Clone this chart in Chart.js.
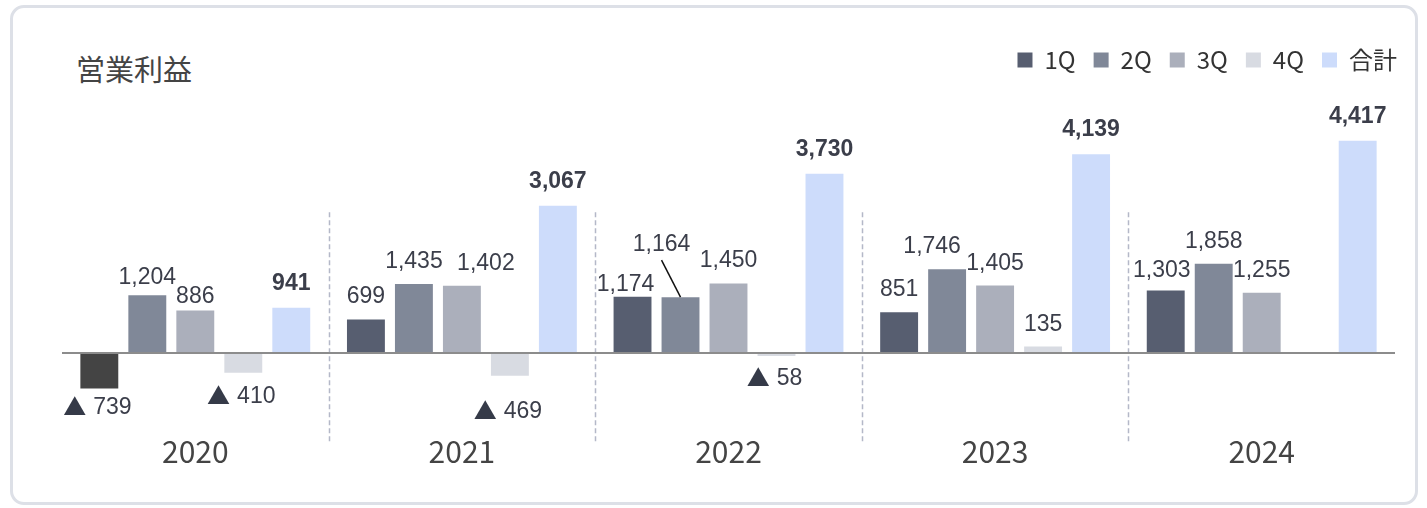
<!DOCTYPE html>
<html>
<head>
<meta charset="utf-8">
<script src="https://cdn.jsdelivr.net/npm/chart.js@4/dist/chart.umd.min.js"></script>
<style>
  html, body { margin: 0; padding: 0; background: #fff; }
  #card {
    position: absolute; left: 10px; top: 5px;
    width: 1402px; height: 494px;
    border: 3px solid #dde0e7; border-radius: 14px;
  }
  #title {
    position: absolute; left: 76px; top: 54px;
    font: 29px/29px "Noto Sans CJK JP", sans-serif; color: #444;
  }
  #chart { position: absolute; left: 0; top: 0; }
</style>
</head>
<body>
<div id="card"></div>
<div id="title">営業利益</div>
<canvas id="chart" width="1427" height="508"></canvas>
<script>
// data
const years = ['2020', '2021', '2022', '2023', '2024'];
const seriesNames = ['1Q', '2Q', '3Q', '4Q', '合計'];
const q1 = [-739, 699, 1174, 851, 1303];
const q2 = [1204, 1435, 1164, 1746, 1858];
const q3 = [886, 1402, 1450, 1405, 1255];
const q4 = [-410, -469, -58, 135, null];
const total = [941, 3067, 3730, 4139, 4417];

const colors = ['#575e70', '#808898', '#abafbb', '#d8dbe2', '#cddcfb'];
const negColor1Q = '#444444';

// value labels drawn above / below each bar
const valueLabels = {
    id: 'valueLabels',
    afterDatasetsDraw(chart, args, opts) {
        const ctx = chart.ctx;
        const numFont = (bold) => (bold ? 'bold ' : '') + opts.size + 'px "Liberation Sans", Arial, sans-serif';
        const triFont = opts.size + 'px "Noto Sans CJK JP", sans-serif';
        ctx.save();
        ctx.textBaseline = 'alphabetic';
        ctx.fillStyle = opts.color;
        ctx.strokeStyle = '#111';
        ctx.lineWidth = 1.5;
        chart.data.datasets.forEach((ds, di) => {
            const meta = chart.getDatasetMeta(di);
            meta.data.forEach((bar, i) => {
                const v = ds.data[i];
                if (v === null || v === undefined) return;
                const shift = Object.assign({dx: 0, dy: 0}, opts.shifts[di + '-' + i]);
                const x = bar.x + shift.dx;
                if (v < 0) {
                    const num = Math.abs(v).toLocaleString('en-US');
                    const y = bar.y + 28 + shift.dy;
                    ctx.font = triFont;
                    const tw = ctx.measureText('▲').width;
                    ctx.font = numFont(ds.boldLabels);
                    const nw = ctx.measureText(num).width;
                    const gap = 7;
                    const left = x - (tw + gap + nw) / 2 - 2;
                    ctx.textAlign = 'left';
                    ctx.font = triFont;
                    ctx.fillStyle = opts.markColor;
                    ctx.fillText('▲', left, y + 1);
                    ctx.font = numFont(ds.boldLabels);
                    ctx.fillStyle = opts.color;
                    ctx.fillText(num, left + tw + gap, y);
                } else {
                    const y = bar.y - (ds.boldLabels ? 18 : 16) + shift.dy;
                    ctx.textAlign = 'center';
                    ctx.font = numFont(ds.boldLabels);
                    ctx.fillText(v.toLocaleString('en-US'), x, y);
                    if (shift.leader) {
                        ctx.beginPath();
                        ctx.moveTo(x, y + 9);
                        ctx.lineTo(bar.x, bar.y);
                        ctx.stroke();
                    }
                }
            });
        });
        ctx.restore();
    }
};

// dashed separators between years and the zero line
const yearSeparators = {
    id: 'yearSeparators',
    beforeDatasetsDraw(chart, args, opts) {
        const {ctx, chartArea, scales: {x, y}} = chart;
        const top = y.getPixelForValue(opts.fromValue);
        const bottom = chartArea.bottom + opts.extend;
        ctx.save();
        ctx.strokeStyle = opts.color;
        ctx.lineWidth = 1.5;
        ctx.setLineDash([5, 3]);
        for (let i = 1; i < years.length; i++) {
            const px = Math.round((x.getPixelForValue(i - 1) + x.getPixelForValue(i)) / 2) + 0.5;
            ctx.beginPath();
            ctx.moveTo(px, top);
            ctx.lineTo(px, bottom);
            ctx.stroke();
        }
        ctx.restore();
    },
    afterDatasetsDraw(chart, args, opts) {
        const {ctx, chartArea, scales: {y}} = chart;
        const y0 = Math.round(y.getPixelForValue(0));
        ctx.save();
        ctx.strokeStyle = opts.zeroColor;
        ctx.lineWidth = 2;
        ctx.beginPath();
        ctx.moveTo(chartArea.left, y0);
        ctx.lineTo(chartArea.right, y0);
        ctx.stroke();
        ctx.restore();
    }
};

// nudge the legend to the right edge of the card
const legendShift = {
    id: 'legendShift',
    afterLayout(chart, args, opts) {
        const lg = chart.legend;
        if (!lg) return;
        lg.left += opts.dx;
        lg.right += opts.dx;
        lg.adjustHitBoxes && lg.adjustHitBoxes();
    }
};

const seriesData = [q1, q2, q3, q4, total];

new Chart(document.getElementById('chart'), {
    type: 'bar',
    data: {
        labels: years,
        datasets: seriesData.map((d, k) => ({
            label: seriesNames[k],
            data: d,
            backgroundColor: k === 0
                ? (c) => (c.raw < 0 ? negColor1Q : colors[0])
                : colors[k],
            boldLabels: k === 4,
            categoryPercentage: 0.9,
            barPercentage: 0.79
        }))
    },
    plugins: [yearSeparators, valueLabels, legendShift],
    options: {
        responsive: false,
        animation: false,
        devicePixelRatio: 1,
        layout: {
            padding: {top: 30, left: 62, right: 32, bottom: 42}
        },
        plugins: {
            legend: {
                position: 'top',
                align: 'end',
                labels: {
                    boxWidth: 15,
                    boxHeight: 15,
                    padding: 18,
                    color: '#333',
                    font: {family: '"Noto Sans CJK JP", sans-serif', size: 24},
                    generateLabels(chart) {
                        const items = Chart.defaults.plugins.legend.labels.generateLabels(chart);
                        items.forEach((it, k) => {
                            it.fillStyle = colors[k];
                            it.strokeStyle = colors[k];
                            it.lineWidth = 0;
                        });
                        return items;
                    }
                }
            },
            legendShift: {dx: 20},
            tooltip: {enabled: false},
            valueLabels: {
                size: 23,
                color: '#3b3e4a',
                markColor: '#353a48',
                shifts: {
                    '1-0': {dy: 5},
                    '2-0': {dy: 8},
                    '2-1': {dx: 24},
                    '0-2': {dx: -7, dy: 10},
                    '1-2': {dx: -19, dy: -30, leader: true},
                    '1-3': {dx: -15},
                    '0-4': {dx: -4, dy: 3},
                    '0-0': {dy: -3},
                    '3-0': {dy: 2},
                    '3-1': {dy: 14},
                    '3-2': {dy: 1}
                }
            },
            yearSeparators: {
                fromValue: 2930,
                extend: 13,
                color: '#b4b8c8',
                zeroColor: '#8c8c8c'
            }
        },
        scales: {
            x: {
                grid: {display: false},
                border: {display: false},
                ticks: {
                    padding: -4,
                    color: '#444',
                    font: {family: '"Noto Sans CJK JP", sans-serif', size: 30}
                }
            },
            y: {
                min: -1600,
                max: 5640,
                border: {display: false},
                grid: {display: false, drawTicks: false},
                ticks: {display: false, stepSize: 1000}
            }
        }
    }
});
</script>
</body>
</html>
